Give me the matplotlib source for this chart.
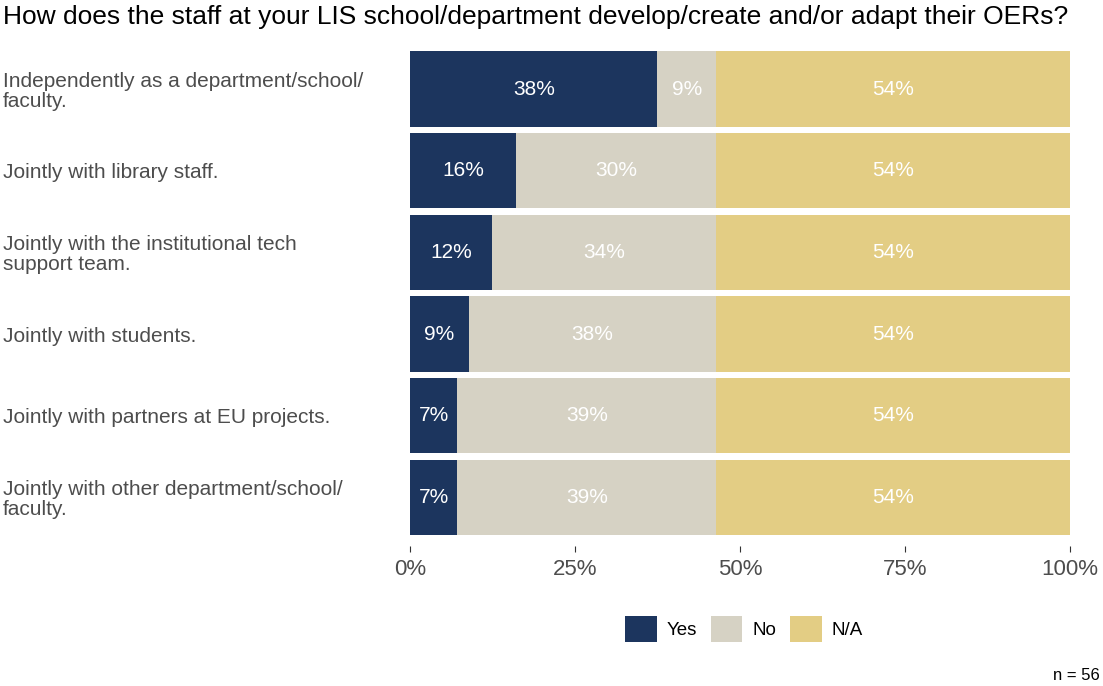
import matplotlib.pyplot as plt
import numpy as np
from matplotlib.patches import Patch

plt.rcParams['font.family'] = ['Liberation Sans', 'DejaVu Sans']

# survey answers (counts out of n = 56)
questions = [
    'Independently as a department/school/\nfaculty.',
    'Jointly with library staff.',
    'Jointly with the institutional tech\nsupport team.',
    'Jointly with students.',
    'Jointly with partners at EU projects.',
    'Jointly with other department/school/\nfaculty.',
]
yes = np.array([21, 9, 7, 5, 4, 4])
no = np.array([5, 17, 19, 21, 22, 22])
na = np.array([30, 30, 30, 30, 30, 30])
n_total = 56

answers = ['Yes', 'No', 'N/A']
colors = ['#1c355e', '#d6d2c4', '#e3cd84']

fig = plt.figure(figsize=(11.03, 6.86), dpi=100)
ax = fig.add_axes([0.3717, 0.2034, 0.9701 - 0.3717, 0.9417 - 0.2034])

ypos = np.arange(len(questions))
left = np.zeros(len(questions))
for vals, col in zip([yes, no, na], colors):
    share = vals / n_total
    ax.barh(ypos, share, left=left, height=0.92, color=col)
    for y, l, s in zip(ypos, left, share):
        ax.text(l + s / 2, y, '%d%%' % round(s * 100), ha='center', va='center',
                color='white', fontsize=15)
    left = left + share

ax.set_xlim(0, 1)
ax.set_ylim(len(questions) - 0.4, -0.6)
ax.set_xticks([0, 0.25, 0.5, 0.75, 1])
ax.set_xticklabels(['0%', '25%', '50%', '75%', '100%'])
ax.set_yticks(ypos)
ax.set_yticklabels(questions, ha='left', linespacing=1.05)
ax.tick_params(axis='y', length=0, pad=293, labelsize=15, labelcolor='#4d4d4d')
ax.tick_params(axis='x', length=4, width=0.8, color='#333333', pad=5,
               labelsize=16, labelcolor='#4d4d4d')
for s in ax.spines.values():
    s.set_visible(False)

fig.text(3 / 1103, 1 - 17 / 686, 'How does the staff at your LIS school/department develop/create and/or adapt their OERs?',
         fontsize=19, ha='left', va='center', color='black')

handles = [Patch(facecolor=c, edgecolor='none', label=a) for a, c in zip(answers, colors)]
fig.legend(handles=handles, loc='center', bbox_to_anchor=(744 / 1103, 1 - 629 / 686),
           ncol=3, frameon=False, fontsize=13.5, handlelength=1.7, handleheight=1.7,
           handletextpad=0.55, columnspacing=0.7)

fig.text(1100 / 1103, 1 - 675 / 686, 'n = %d' % n_total, ha='right', va='center',
         fontsize=12, color='black')

fig.savefig('out.png', dpi=100)
